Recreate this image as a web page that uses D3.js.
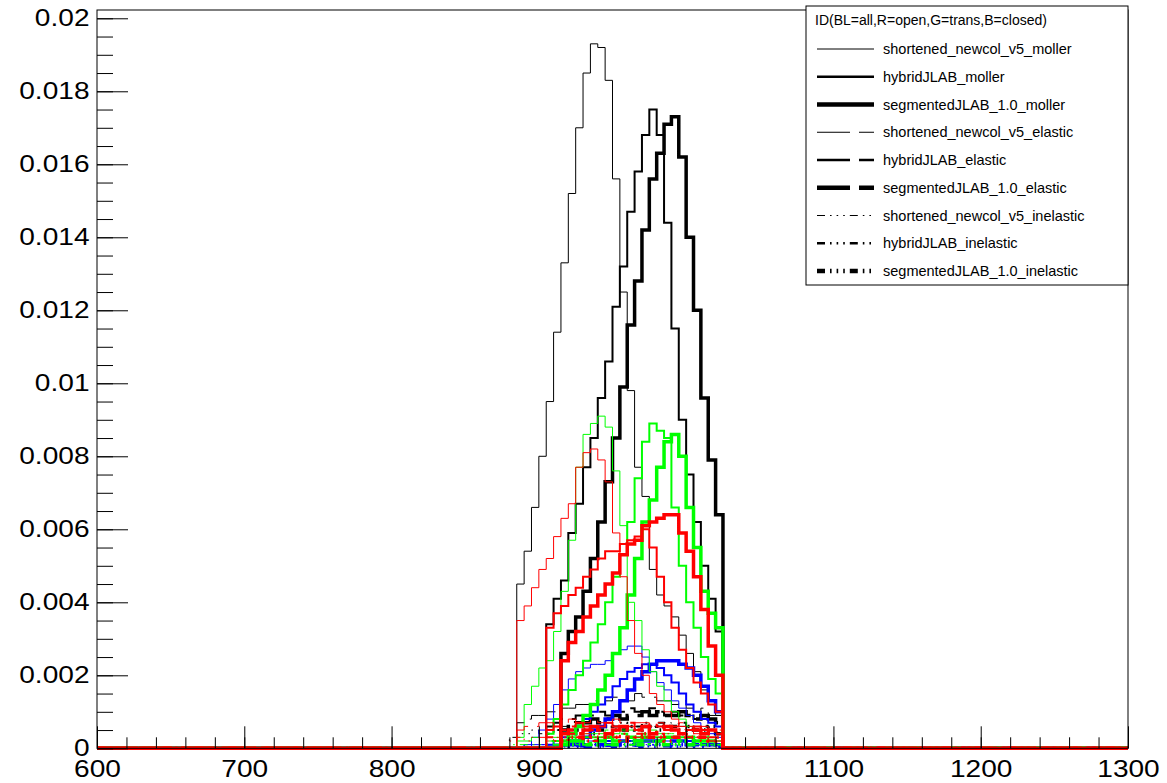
<!DOCTYPE html>
<html>
<head>
<meta charset="utf-8">
<script src="https://cdn.jsdelivr.net/npm/d3@7"></script>
<style>
  body { margin: 0; background: #fff; }
  svg { display: block; font-family: "Liberation Sans", Arial, Helvetica, sans-serif; }
</style>
</head>
<body>
<div id="chart"></div>
<script>
// histogram binning: 5 wide bins from 600 to 1300, contents below start at 880
const xRange = [600, 1300];
const binWidth = 5;
const binStart = 880;

// bin contents, bins 880-885 ... 1020-1025 (everything else is empty)
// moller
const snMollerAll   = [0, .0045, .0054, .0066, .0080, .0095, .0114, .0133, .0152, .0170, .0185, .0193, .0192, .0183, .0156, .0125, .0098, .0077, .0069, .0049, .0042, .0039, .0036, .0031, .0026, .0021, .0016, .0012, .0009];
const hmMollerAll   = [0, 0, 0, 0, 0, .0034, .0041, .0046, .0059, .0067, .0077, .0085, .0096, .0106, .0121, .0132, .0147, .0158, .0168, .0175, .0168, .0144, .0115, .0090, .0075, .0062, .0050, .0041, .0032];
const sgMollerAll   = [0, 0, 0, 0, 0, 0, 0, .0026, .0032, .0036, .0043, .0052, .0062, .0073, .0085, .0099, .0116, .0128, .0142, .0156, .0163, .0171, .0173, .0162, .0140, .0120, .0096, .0079, .0064];
const snMollerOpen  = [0, .0035, .0039, .0044, .0049, .0052, .0058, .0063, .0067, .0077, .0081, .0082, .0079, .0073, .0059, .0047, .0035, .0026, .0020, .0015, .0012, .0010, .0008, .0006, .0005, .0004, .0003, .0002, .0002];
const hmMollerOpen  = [0, 0, 0, 0, 0, .0033, .0037, .0039, .0042, .0044, .0047, .0049, .0052, .0054, .0054, .0056, .0057, .0058, .0060, .0055, .0047, .0040, .0033, .0027, .0022, .0018, .0015, .0012, .0010];
const sgMollerOpen  = [0, 0, 0, 0, 0, 0, 0, .0024, .0029, .0032, .0036, .0039, .0042, .0045, .0048, .0053, .0056, .0057, .0061, .0062, .0063, .0064, .0064, .0059, .0054, .0047, .0038, .0028, .0020];
const snMollerTrans = [0, .0003, .0012, .0017, .0022, .0024, .0032, .0043, .0057, .0077, .0086, .0089, .0091, .0088, .0076, .0061, .0040, .0035, .0027, .0021, .0017, .0013, .0010, .0008, .0006, .0005, .0004, .0003, .0002];
const hmMollerTrans = [0, 0, 0, 0, 0, .0004, .0008, .0012, .0016, .0020, .0024, .0029, .0034, .0040, .0047, .0053, .0062, .0074, .0084, .0089, .0087, .0085, .0066, .0050, .0040, .0033, .0025, .0019, .0015];
const sgMollerTrans = [0, 0, 0, 0, 0, 0, 0, .0002, .0004, .0006, .0009, .0012, .0016, .0020, .0026, .0033, .0042, .0052, .0062, .0068, .0077, .0084, .0086, .0080, .0066, .0055, .0043, .0037, .0033];
const snMollerClosed = [0, 0, 0, .0003, .0005, .0008, .0012, .0016, .0019, .0021, .0022, .0023, .0023, .0024, .0026, .0027, .0028, .0028, .0025, .0021, .0018, .0016, .0013, .0011, .0009, .0007, .0005, .0004, .0003];
const hmMollerClosed = [0, 0, 0, 0, 0, .0001, .0002, .0003, .0005, .0006, .0008, .0010, .0012, .0014, .0017, .0019, .0021, .0022, .0023, .0023, .0022, .0020, .0018, .0015, .0012, .0010, .0008, .0007, .0006];
const sgMollerClosed = [0, 0, 0, 0, 0, 0, 0, .0001, .0002, .0002, .0003, .0005, .0006, .0008, .0010, .0013, .0016, .0019, .0021, .0023, .0024, .0024, .0024, .0023, .0022, .0020, .0017, .0013, .0010];
// elastic
const snElasticAll   = [0, .0007, .0008, .0009, .0009, .0010, .0010, .0011, .0011, .0012, .0012, .0013, .0012, .0013, .0014, .0014, .0013, .0015, .0014, .0014, .0013, .0013, .0012, .0013, .0011, .0010, .0011, .0009, .0009];
const hmElasticAll   = [0, 0, 0, 0, 0, .0006, .0007, .0008, .0008, .0009, .0008, .0009, .0010, .0009, .0010, .0010, .0011, .0010, .0010, .0011, .0010, .0009, .0010, .0009, .0009, .0008, .0009, .0008, .0008];
const sgElasticAll   = [0, 0, 0, 0, 0, 0, 0, .0005, .0006, .0007, .0007, .0008, .0007, .0008, .0009, .0008, .0009, .0009, .0010, .0009, .0010, .0009, .0009, .0010, .0009, .0008, .0009, .0008, .0007];
const snElasticOpen  = [0, .0005, .0006, .0006, .0007, .0007, .0006, .0007, .0008, .0007, .0007, .0008, .0007, .0007, .0008, .0007, .0006, .0007, .0007, .0006, .0007, .0006, .0006, .0007, .0006, .0005, .0006, .0005, .0005];
const hmElasticOpen  = [0, 0, 0, 0, 0, .0005, .0006, .0005, .0006, .0007, .0006, .0005, .0006, .0007, .0006, .0006, .0007, .0005, .0006, .0007, .0006, .0005, .0006, .0006, .0005, .0006, .0005, .0005, .0004];
const sgElasticOpen  = [0, 0, 0, 0, 0, 0, 0, .0004, .0005, .0004, .0005, .0006, .0005, .0004, .0005, .0006, .0005, .0005, .0006, .0004, .0005, .0006, .0005, .0004, .0005, .0005, .0004, .0005, .0004];
const snElasticTrans = [0, .0002, .0002, .0003, .0003, .0003, .0003, .0004, .0003, .0004, .0004, .0004, .0004, .0005, .0004, .0005, .0005, .0005, .0004, .0005, .0004, .0004, .0004, .0004, .0003, .0003, .0003, .0003, .0002];
const hmElasticTrans = [0, 0, 0, 0, 0, .0002, .0002, .0002, .0003, .0002, .0003, .0003, .0003, .0003, .0003, .0004, .0003, .0003, .0004, .0003, .0003, .0003, .0003, .0003, .0003, .0002, .0003, .0002, .0002];
const sgElasticTrans = [0, 0, 0, 0, 0, 0, 0, .0001, .0002, .0002, .0002, .0002, .0002, .0003, .0002, .0002, .0003, .0002, .0003, .0003, .0002, .0003, .0003, .0002, .0003, .0002, .0002, .0002, .0002];
const snElasticClosed = [0, 0, .0001, .0001, .0001, .0001, .0001, .0001, .0002, .0001, .0002, .0002, .0002, .0002, .0002, .0002, .0002, .0003, .0002, .0002, .0002, .0002, .0002, .0002, .0001, .0002, .0001, .0001, .0001];
const hmElasticClosed = [0, 0, 0, 0, 0, .0001, .0001, .0001, .0001, .0001, .0001, .0002, .0001, .0002, .0002, .0002, .0002, .0002, .0002, .0002, .0002, .0002, .0002, .0002, .0002, .0001, .0002, .0001, .0001];
const sgElasticClosed = [0, 0, 0, 0, 0, 0, 0, .0001, .0001, .0001, .0001, .0001, .0001, .0001, .0001, .0002, .0001, .0002, .0002, .0002, .0002, .0002, .0002, .0002, .0001, .0002, .0001, .0001, .0001];
// inelastic
const snInelasticAll   = [.0003, .0004, .0004, .0005, .0004, .0005, .0005, .0006, .0005, .0006, .0006, .0005, .0006, .0007, .0006, .0006, .0007, .0006, .0007, .0006, .0006, .0007, .0006, .0006, .0005, .0006, .0005, .0005, .0004];
const hmInelasticAll   = [0, 0, 0, 0, 0, .0004, .0005, .0004, .0005, .0006, .0005, .0006, .0005, .0006, .0006, .0007, .0006, .0006, .0007, .0006, .0007, .0006, .0006, .0007, .0006, .0005, .0006, .0005, .0005];
const sgInelasticAll   = [0, 0, 0, 0, 0, 0, 0, .0004, .0004, .0005, .0005, .0004, .0005, .0006, .0005, .0005, .0006, .0005, .0006, .0006, .0005, .0006, .0006, .0005, .0006, .0005, .0005, .0006, .0004];
const snInelasticOpen  = [.0002, .0003, .0002, .0003, .0003, .0002, .0003, .0004, .0003, .0003, .0004, .0003, .0003, .0004, .0003, .0004, .0003, .0003, .0004, .0003, .0003, .0004, .0003, .0003, .0003, .0004, .0003, .0002, .0003];
const hmInelasticOpen  = [0, 0, 0, 0, 0, .0003, .0002, .0003, .0004, .0003, .0003, .0002, .0004, .0003, .0003, .0004, .0003, .0004, .0003, .0003, .0004, .0003, .0003, .0004, .0003, .0003, .0002, .0003, .0003];
const sgInelasticOpen  = [0, 0, 0, 0, 0, 0, 0, .0002, .0003, .0003, .0002, .0003, .0003, .0004, .0003, .0002, .0003, .0003, .0004, .0003, .0003, .0002, .0003, .0004, .0003, .0003, .0003, .0002, .0003];
const snInelasticTrans = [.0001, .0001, .0001, .0001, .0001, .0002, .0001, .0001, .0002, .0001, .0002, .0001, .0002, .0002, .0001, .0002, .0002, .0001, .0002, .0002, .0001, .0002, .0001, .0002, .0001, .0001, .0002, .0001, .0001];
const hmInelasticTrans = [0, 0, 0, 0, 0, .0001, .0001, .0001, .0001, .0002, .0001, .0001, .0002, .0001, .0001, .0002, .0001, .0002, .0001, .0001, .0002, .0001, .0002, .0001, .0001, .0002, .0001, .0001, .0001];
const sgInelasticTrans = [0, 0, 0, 0, 0, 0, 0, .0001, .0001, .0001, .0001, .0002, .0001, .0001, .0001, .0001, .0002, .0001, .0001, .0002, .0001, .0001, .0001, .0002, .0001, .0001, .0001, .0001, .0001];
const snInelasticClosed = [0, .00005, .0001, .00005, .0001, .0001, .00005, .0001, .0001, .00005, .0001, .0001, .0001, .00005, .0001, .0001, .0001, .00005, .0001, .0001, .0001, .00005, .0001, .0001, .00005, .0001, .0001, .00005, .0001];
const hmInelasticClosed = [0, 0, 0, 0, 0, .00005, .0001, .00005, .0001, .00005, .0001, .0001, .00005, .0001, .0001, .00005, .0001, .0001, .00005, .0001, .0001, .00005, .0001, .00005, .0001, .0001, .00005, .0001, .00005];
const sgInelasticClosed = [0, 0, 0, 0, 0, 0, 0, .00005, .0001, .00005, .00005, .0001, .00005, .0001, .00005, .0001, .0001, .00005, .0001, .00005, .0001, .0001, .00005, .0001, .00005, .0001, .00005, .0001, .00005];

const legendHeader = 'ID(BL=all,R=open,G=trans,B=closed)';
const legendLabels = [
  'shortened_newcol_v5_moller', 'hybridJLAB_moller', 'segmentedJLAB_1.0_moller',
  'shortened_newcol_v5_elastic', 'hybridJLAB_elastic', 'segmentedJLAB_1.0_elastic',
  'shortened_newcol_v5_inelastic', 'hybridJLAB_inelastic', 'segmentedJLAB_1.0_inelastic'
];
const yTicks = [0, 0.002, 0.004, 0.006, 0.008, 0.01, 0.012, 0.014, 0.016, 0.018, 0.02];
const yTickLabels = ['0', '0.002', '0.004', '0.006', '0.008', '0.01', '0.012', '0.014', '0.016', '0.018', '0.02'];
const xTicks = [600, 700, 800, 900, 1000, 1100, 1200, 1300];

// series grouped per region colour, legend order inside each
const seriesByColor = [
  { color: '#000000', sets: [snMollerAll, hmMollerAll, sgMollerAll, snElasticAll, hmElasticAll, sgElasticAll, snInelasticAll, hmInelasticAll, sgInelasticAll] },
  { color: '#0000ff', sets: [snMollerClosed, hmMollerClosed, sgMollerClosed, snElasticClosed, hmElasticClosed, sgElasticClosed, snInelasticClosed, hmInelasticClosed, sgInelasticClosed] },
  { color: '#00ff00', sets: [snMollerTrans, hmMollerTrans, sgMollerTrans, snElasticTrans, hmElasticTrans, sgElasticTrans, snInelasticTrans, hmInelasticTrans, sgInelasticTrans] },
  { color: '#ff0000', sets: [snMollerOpen, hmMollerOpen, sgMollerOpen, snElasticOpen, hmElasticOpen, sgElasticOpen, snInelasticOpen, hmInelasticOpen, sgInelasticOpen] }
];

// line width per geometry, dash per process (ROOT styles 1, 9, 6)
const widths = [1, 2, 3.5];
const legendWidths = [1, 2.5, 4.5];
const dashes = [null, '33 9', '8 5 1.6 5 1.6 5 1.6 5'];

const W = 1167, H = 783;
const frame = { left: 97, right: 1128, top: 10, bottom: 748.3 };

const svg = d3.select('#chart').append('svg')
  .attr('width', W)
  .attr('height', H);

const x = d3.scaleLinear().domain(xRange).range([frame.left, frame.right]);
const y = d3.scaleLinear().domain([0, 0.020227]).range([frame.bottom, frame.top]);

// full 600-1300 contour of one histogram
function histPoints(vals) {
  const nBins = (xRange[1] - xRange[0]) / binWidth;
  const offset = (binStart - xRange[0]) / binWidth;
  const pts = [];
  for (let i = 0; i < nBins; i++) {
    const j = i - offset;
    const v = j >= 0 && j < vals.length ? vals[j] : 0;
    pts.push([xRange[0] + i * binWidth, v]);
  }
  pts.push([xRange[1], pts[pts.length - 1][1]]);
  return pts;
}

const line = d3.line()
  .x(d => x(d[0]))
  .y(d => y(d[1]))
  .curve(d3.curveStepAfter);

svg.append('rect')
  .attr('x', frame.left).attr('y', frame.top)
  .attr('width', frame.right - frame.left).attr('height', frame.bottom - frame.top)
  .attr('fill', '#fff');

const hg = svg.append('g').attr('class', 'hists');
seriesByColor.forEach(group => {
  group.sets.forEach((vals, k) => {
    hg.append('path')
      .attr('d', line(histPoints(vals)))
      .attr('fill', 'none')
      .attr('stroke', group.color)
      .attr('stroke-width', widths[k % 3])
      .attr('stroke-dasharray', dashes[Math.floor(k / 3)])
      .attr('stroke-linejoin', 'miter');
  });
});

// axes, ticks pointing into the frame like ROOT
const labelStretch = 1.17;

const yAxis = svg.append('g')
  .attr('transform', `translate(${frame.left},0)`)
  .call(d3.axisLeft(y).tickValues(yTicks).tickSizeInner(-31).tickSizeOuter(0)
    .tickFormat((d, i) => yTickLabels[i]));
yAxis.call(g => g.select('.domain').remove());
yAxis.selectAll('.tick line').attr('stroke', '#000');
yAxis.selectAll('.tick text')
  .attr('x', null)
  .attr('font-size', 24)
  .attr('font-family', '"Liberation Sans", Arial, sans-serif')
  .attr('fill', '#000')
  .attr('transform', `translate(-7.5,0) scale(${labelStretch},1)`);

svg.append('g')
  .attr('transform', `translate(${frame.left},0)`)
  .call(d3.axisLeft(y).tickValues(d3.range(0, 0.0201, 0.0005)).tickSizeInner(-16).tickSizeOuter(0).tickFormat(''))
  .call(g => g.select('.domain').remove())
  .selectAll('.tick line').attr('stroke', '#000');

const xAxis = svg.append('g')
  .attr('transform', `translate(0,${frame.bottom})`)
  .call(d3.axisBottom(x).tickValues(xTicks).tickSizeInner(-22).tickSizeOuter(0).tickFormat(d3.format('d')));
xAxis.call(g => g.select('.domain').remove());
xAxis.selectAll('.tick line').attr('stroke', '#000');
xAxis.selectAll('.tick text')
  .attr('y', null)
  .attr('dy', null)
  .attr('font-size', 24)
  .attr('font-family', '"Liberation Sans", Arial, sans-serif')
  .attr('fill', '#000')
  .attr('transform', `translate(0,28.5) scale(${labelStretch},1)`);

svg.append('g')
  .attr('transform', `translate(0,${frame.bottom})`)
  .call(d3.axisBottom(x).tickValues(d3.range(600, 1301, 20)).tickSizeInner(-11).tickSizeOuter(0).tickFormat(''))
  .call(g => g.select('.domain').remove())
  .selectAll('.tick line').attr('stroke', '#000');

svg.append('rect')
  .attr('x', frame.left).attr('y', frame.top)
  .attr('width', frame.right - frame.left).attr('height', frame.bottom - frame.top)
  .attr('fill', 'none')
  .attr('stroke', '#000')
  .attr('stroke-width', 1);

// legend
const lg = { left: 806, top: 6, right: 1128, bottom: 285 };
const legend = svg.append('g');
legend.append('rect')
  .attr('x', lg.left).attr('y', lg.top)
  .attr('width', lg.right - lg.left).attr('height', lg.bottom - lg.top)
  .attr('fill', '#fff').attr('stroke', '#000').attr('stroke-width', 1);
legend.append('text')
  .attr('x', 815).attr('y', 25)
  .attr('font-size', 14)
  .attr('fill', '#000')
  .text(legendHeader);
legendLabels.forEach((label, i) => {
  const cy = 49 + i * 27.75;
  legend.append('line')
    .attr('x1', 817).attr('x2', 874)
    .attr('y1', cy).attr('y2', cy)
    .attr('stroke', '#000')
    .attr('stroke-width', legendWidths[i % 3])
    .attr('stroke-dasharray', dashes[Math.floor(i / 3)]);
  legend.append('text')
    .attr('x', 883).attr('y', cy + 5)
    .attr('font-size', 14.5)
    .attr('fill', '#000')
    .text(label);
});
</script>
</body>
</html>
